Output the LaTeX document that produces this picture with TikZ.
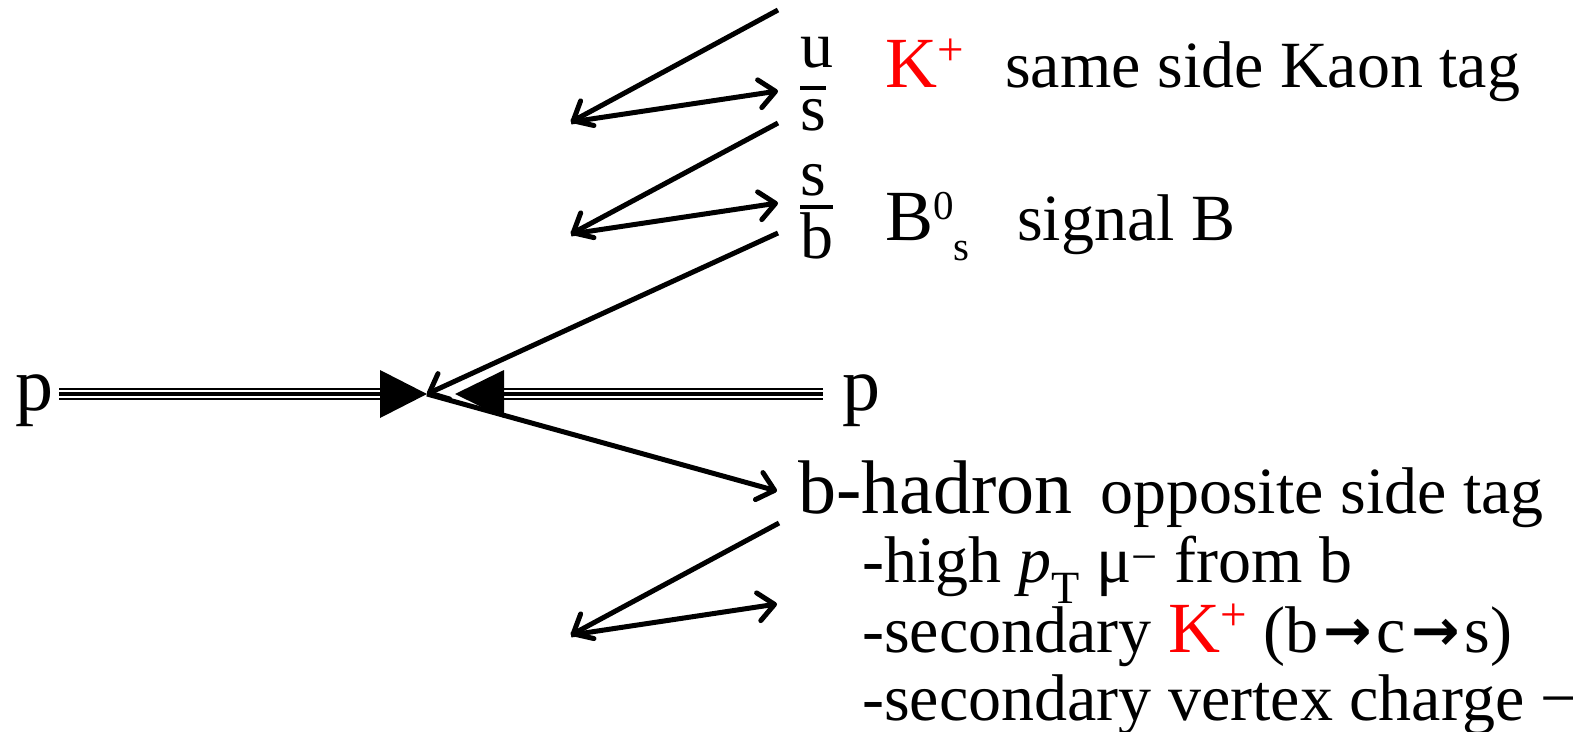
\documentclass[tikz,border=0pt]{standalone}
\usepackage{fontspec}
\setmainfont{Liberation Serif}
\newfontfamily\arrfont{DejaVu Sans}
\usetikzlibrary{arrows.meta}
\newcommand\qbar[2]{\setbox0\hbox{#2}\rlap{\rule[#1]{\wd0}{0.065em}}\box0}
\newcommand\supx[1]{\raisebox{0.28em}{\fontsize{41}{41}\selectfont #1}}
\newcommand\supp{\raisebox{0.3em}{\fontsize{47}{47}\selectfont +}}
\newcommand\subx[1]{\raisebox{-0.28em}{\fontsize{41}{41}\selectfont #1}}
\newcommand\rarr{\kern5pt\raisebox{0.02em}{\arrfont\bfseries\fontsize{58}{58}\selectfont →}\kern5pt}
\begin{document}
\begin{tikzpicture}[x=1pt,y=-1pt,
  txt/.style={anchor=base west, inner sep=0pt, font=\fontsize{66}{66}\selectfont},
  bigtxt/.style={anchor=base west, inner sep=0pt, font=\fontsize{76}{76}\selectfont},
  mes/.style={anchor=base west, inner sep=0pt, font=\fontsize{72}{72}\selectfont},
  trk/.style={line width=5pt, -{Straight Barb[length=16pt,width=28pt,line cap=round,line join=round]}},
  beamout/.style={line width=12pt},
  beammid/.style={line width=8pt, white},
  beamin/.style={line width=4pt},
  kred/.style={text=red}
]
\useasboundingbox (0,0) rectangle (1573,731);

% beams
\node[bigtxt] (pL) at (15,410) {p};
\node[bigtxt] (pR) at (842,410) {p};
\coordinate (V) at (427,394);
\coordinate (bL) at (59,394);
\coordinate (aL) at (380,394);
\coordinate (bR) at (823,394);
\coordinate (aR) at (504,394);
\coordinate (tR) at (455,394);
\foreach \s in {beamout,beammid,beamin}{
  \draw[\s] (bL) -- (aL);
  \draw[\s] (aR) -- (bR);
}
\fill (380,370) -- (V) -- (380,418) -- cycle;
\fill (504,370) -- (tR) -- (504,418) -- cycle;

% quark labels
\node[txt] (u) at (800,67) {u};
\node[txt] (sbar) at (800,130) {\qbar{0.6em}{s}};
\node[txt] (s) at (800,195) {s};
\node[txt] (bbar) at (800,258) {\qbar{0.74em}{b}};

% meson labels
\node[mes,kred] (Kp) at (885,87) {K\supp};
\node[txt] (sst) at (1005,87) {same side Kaon tag};
\node[mes] (Bs) at (885,240) {B\supx{0}\subx{s}};
\node[txt] (sig) at (1017,240) {signal B};
\node[bigtxt] (bh) at (798,513) {b-hadron};
\node[txt] (ost) at (1100,513) {opposite side tag};
\node[txt] (l1) at (862,582) {-high \textit{p}\textsubscript{T} μ\textsuperscript{−} from b};
\node[txt] (l2) at (862,652) {-secondary {\color{red}\fontsize{72}{72}\selectfont K\supp} (b\rarr c\rarr s)};
\node[txt] (l3) at (862,720) {-secondary vertex charge −};

% tracks
\coordinate (t1a) at (778,10);
\coordinate (t1b) at (571,122);
\coordinate (t1c) at (778,91);
\coordinate (t2a) at (778,123);
\coordinate (t2b) at (571,234);
\coordinate (t2c) at (778,203);
\coordinate (t3a) at (778,233);
\coordinate (t4b) at (777,491);
\coordinate (t5a) at (779,523);
\coordinate (t5b) at (571,635);
\coordinate (t5c) at (777,604);
\draw[trk] (t1a) -- (t1b);
\draw[trk] (t1b) -- (t1c);
\draw[trk] (t2a) -- (t2b);
\draw[trk] (t2b) -- (t2c);
\draw[trk] (t3a) -- (V);
\draw[trk] (V) -- (t4b);
\draw[trk] (t5a) -- (t5b);
\draw[trk] (t5b) -- (t5c);
\end{tikzpicture}
\end{document}
